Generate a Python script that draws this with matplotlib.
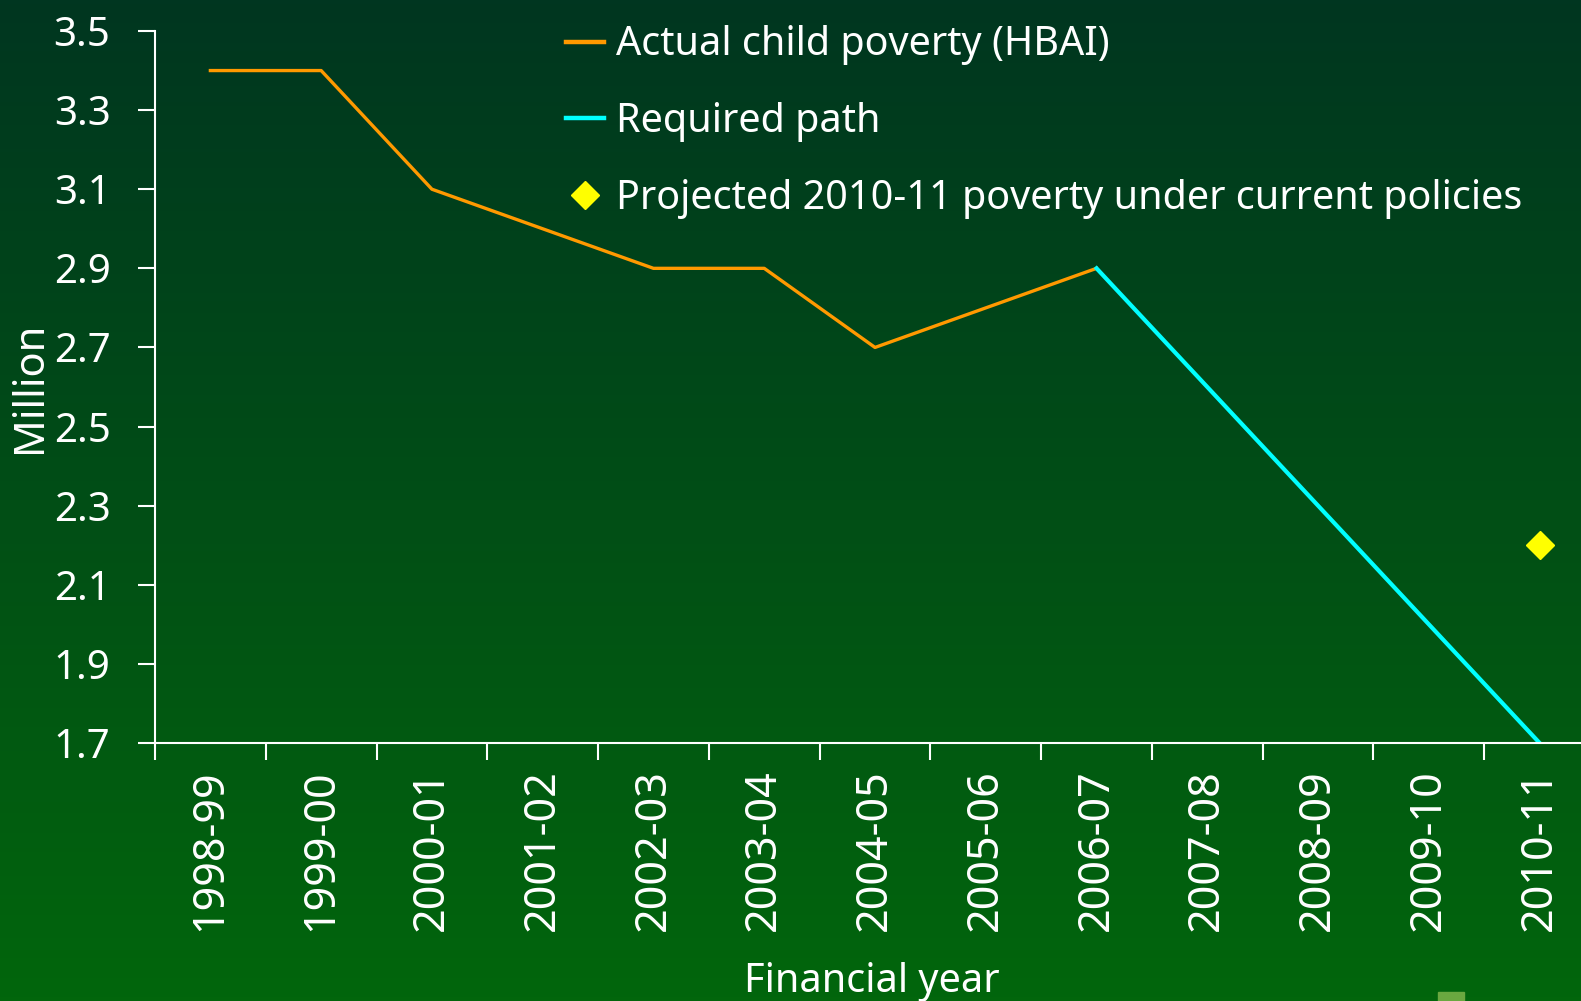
import matplotlib
matplotlib.use("Agg")
import matplotlib.pyplot as plt
import numpy as np
from matplotlib.patches import Rectangle

years = ["1998-99", "1999-00", "2000-01", "2001-02", "2002-03", "2003-04", "2004-05",
         "2005-06", "2006-07", "2007-08", "2008-09", "2009-10", "2010-11"]
actual_years = years[:9]
actual_values = [3.4, 3.4, 3.1, 3.0, 2.9, 2.9, 2.7, 2.8, 2.9]
required_years = years[8:]
required_values = [2.9, 2.6, 2.3, 2.0, 1.7]
projected_year = ["2010-11"]
projected_value = [2.2]
yticks = [1.7, 1.9, 2.1, 2.3, 2.5, 2.7, 2.9, 3.1, 3.3, 3.5]

plt.rcParams['font.family'] = ['Noto Sans', 'DejaVu Sans']

fig = plt.figure(figsize=(15.81, 10.01), dpi=100)

# gradient background
bg = fig.add_axes([0, 0, 1, 1], zorder=-10)
top = np.array([0x00, 0x36, 0x20]) / 255
bot = np.array([0x02, 0x66, 0x0c]) / 255
t = np.linspace(0, 1, 256)[:, None]
grad = top[None, :] * (1 - t) + bot[None, :] * t
bg.imshow(grad[:, None, :], aspect='auto', extent=[0, 1, 0, 1], origin='upper')
bg.set_axis_off()
bg.add_patch(Rectangle((1438 / 1581, 0), 26 / 1581, 9 / 1001, color='#6aa840',
                       transform=bg.transAxes))

ax = fig.add_axes([155 / 1581, 1 - 743 / 1001, 1440 / 1581, (743 - 31) / 1001])
ax.patch.set_alpha(0)
idx = {y: i for i, y in enumerate(years)}

ax.plot([idx[y] for y in actual_years], actual_values, color='#ff9900', lw=2.4,
        label='Actual child poverty (HBAI)')
ax.plot([idx[y] for y in required_years], required_values, color='#00ffff', lw=3,
        label='Required path')
ax.plot([idx[y] for y in projected_year], projected_value, linestyle='none', marker='D',
        markersize=14, color='#ffff00', label='Projected 2010-11 poverty under current policies')

ax.set_xlim(-0.5, len(years) - 0.5)
ax.set_ylim(1.7, 3.5)
ax.set_yticks(yticks)
ax.set_yticklabels([f"{v:.1f}" for v in yticks])
ax.set_xticks(np.arange(len(years) + 1) - 0.5)
ax.set_xticklabels([])
ax.set_xticks(np.arange(len(years)), minor=True)
ax.set_xticklabels(years, minor=True, rotation=90)
ax.tick_params(axis='x', which='minor', length=0, pad=19, labelsize=31)
ax.tick_params(axis='x', which='major', length=12, width=1.5, color='white', direction='out')
ax.tick_params(axis='y', length=12, width=1.5, color='white', direction='out', pad=20,
               labelsize=29)
ax.tick_params(labelcolor='white', which='both')

for s in ['top', 'right']:
    ax.spines[s].set_visible(False)
for s in ['left', 'bottom']:
    ax.spines[s].set_color('white')
    ax.spines[s].set_linewidth(1.5)

fig.text(30 / 1581, 1 - 387 / 1001, 'Million', color='white', fontsize=30, rotation=90,
         ha='center', va='center')
fig.text(872 / 1581, 1 - 982 / 1001, 'Financial year', color='white', fontsize=28.5,
         ha='center', va='center')

leg = ax.legend(loc='upper left', bbox_to_anchor=(0.2745, 1.03), frameon=False,
                fontsize=28.5, labelcolor='white', handlelength=0.95, handletextpad=0.3,
                labelspacing=0.93, borderaxespad=0)
for h in leg.get_lines():
    h.set_linewidth(3.2)

fig.savefig('out.png', dpi=100)
